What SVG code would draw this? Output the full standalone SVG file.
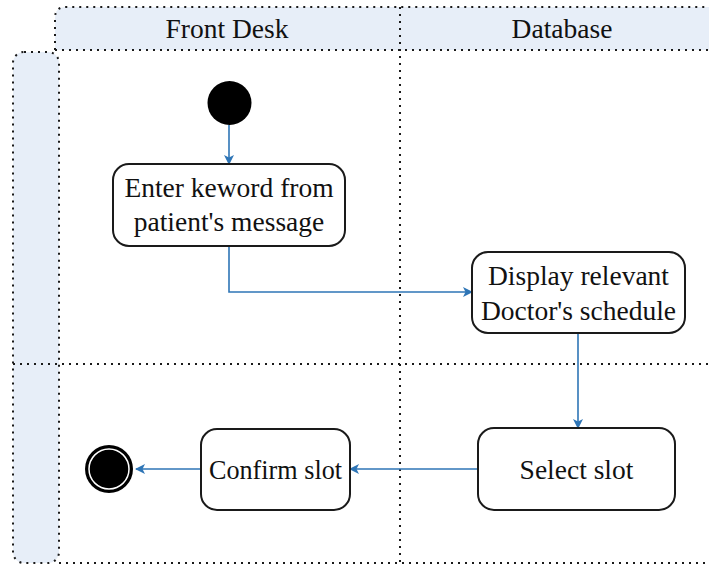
<svg xmlns="http://www.w3.org/2000/svg" width="709" height="565" viewBox="0 0 709 565">
  <style>
    .band { fill: #e7eef8; stroke: none; }
    .dot { fill: none; stroke: #1a1a1a; stroke-width: 2; stroke-dasharray: 2 5; }
    .action { fill: #ffffff; stroke: #1a1a1a; stroke-width: 2; }
    .label { font-family: 'Liberation Serif', 'Times New Roman', serif; font-size: 27.5px; fill: #111; text-anchor: middle; }
    .flow { fill: none; stroke: #2e75b6; stroke-width: 1.6; }
  </style>
  <defs>
    <marker id="arrow" viewBox="0 0 10 10" refX="9" refY="5" markerWidth="10" markerHeight="10" markerUnits="userSpaceOnUse" orient="auto">
      <path d="M0,0 L10,5 L0,10 L2.5,5 Z" fill="#2e75b6"/>
    </marker>
  </defs>

  <!-- swimlane frame -->
  <g id="lanes">
    <path class="band" d="M55,50 V18 Q55,7 66,7 H709 V50 Z"/>
    <rect class="band" x="13" y="52" width="46" height="511" rx="11"/>
    <path class="dot" d="M55,50 V18 Q55,7 66,7 H709"/>
    <line class="dot" x1="55" y1="50" x2="709" y2="50"/>
    <rect class="dot" x="13" y="52" width="46" height="511" rx="11"/>
    <line class="dot" x1="400" y1="7" x2="400" y2="563"/>
    <line class="dot" x1="13" y1="364" x2="709" y2="364"/>
    <line class="dot" x1="59" y1="563" x2="709" y2="563"/>
    <text class="label" x="227" y="38">Front Desk</text>
    <text class="label" x="562" y="38">Database</text>
  </g>

  <!-- connectors -->
  <g id="connectors">
    <line class="flow" x1="229" y1="125" x2="229" y2="164" marker-end="url(#arrow)"/>
    <polyline class="flow" points="229,246 229,292 472,292" marker-end="url(#arrow)"/>
    <line class="flow" x1="578" y1="333" x2="578" y2="428" marker-end="url(#arrow)"/>
    <line class="flow" x1="478" y1="469" x2="350" y2="469" marker-end="url(#arrow)"/>
    <line class="flow" x1="201" y1="469" x2="136" y2="469" marker-end="url(#arrow)"/>
  </g>

  <g id="start">
    <circle cx="229.5" cy="103" r="22" fill="#000"/>
  </g>

  <g id="enter-keyword">
    <rect class="action" x="113" y="164" width="232" height="82" rx="16"/>
    <text class="label" x="229" y="197">Enter keword from</text>
    <text class="label" x="229" y="231">patient's message</text>
  </g>

  <g id="display-schedule">
    <rect class="action" x="472" y="252" width="213" height="81" rx="16"/>
    <text class="label" x="578.5" y="285">Display relevant</text>
    <text class="label" x="578.5" y="320">Doctor's schedule</text>
  </g>

  <g id="select-slot">
    <rect class="action" x="478" y="428" width="197" height="82" rx="16"/>
    <text class="label" x="576.5" y="479">Select slot</text>
  </g>

  <g id="confirm-slot">
    <rect class="action" x="201" y="429" width="149" height="81" rx="16"/>
    <text class="label" x="275.5" y="479" textLength="133" lengthAdjust="spacingAndGlyphs">Confirm slot</text>
  </g>

  <g id="end">
    <circle cx="109" cy="469" r="24" fill="#000"/>
    <circle cx="109" cy="469" r="20" fill="none" stroke="#fff" stroke-width="1.5"/>
  </g>
</svg>
